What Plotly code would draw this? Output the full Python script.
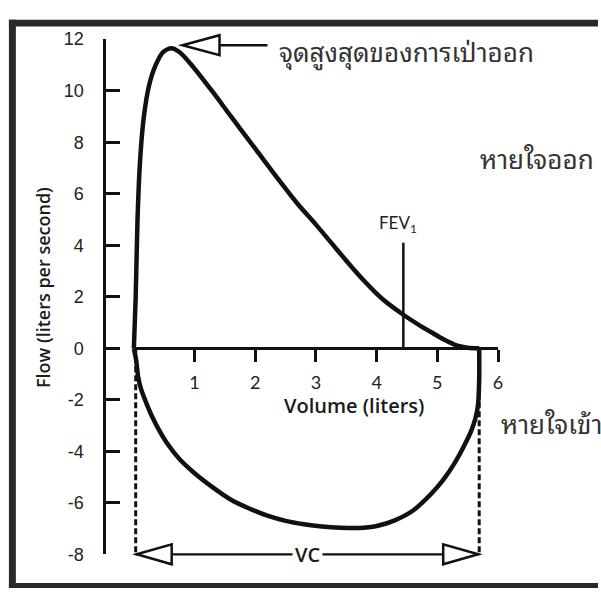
import plotly.graph_objects as go

# ---------------- data ----------------
exp_volume = [0.0, 0.03, 0.06, 0.10, 0.16, 0.25, 0.36, 0.48, 0.62, 0.75, 0.95, 1.3, 1.6, 2.0,
              2.4, 2.7, 3.0, 3.25, 3.5, 3.8, 4.1, 4.44, 4.7, 4.9, 5.1, 5.33, 5.5, 5.69]
exp_flow = [0.0, 2.0, 5.0, 7.2, 8.9, 10.2, 11.0, 11.5, 11.65, 11.5, 11.0, 9.95, 9.0, 7.75,
            6.5, 5.6, 4.8, 4.1, 3.4, 2.6, 1.9, 1.3, 0.9, 0.62, 0.35, 0.1, 0.02, 0.0]

insp_volume = [0.0, 0.04, 0.07, 0.12, 0.20, 0.30, 0.42, 0.55, 0.75, 1.0, 1.3, 1.6, 1.9, 2.2, 2.5,
               2.8, 3.1, 3.4, 3.7, 4.0, 4.3, 4.6, 4.9, 5.1, 5.3, 5.45, 5.56, 5.63, 5.67, 5.69, 5.69]
insp_flow = [0.0, -0.5, -1.1, -1.6, -2.1, -2.65, -3.2, -3.7, -4.3, -4.85, -5.4, -5.88, -6.22, -6.5,
             -6.7, -6.83, -6.92, -6.97, -6.98, -6.9, -6.68, -6.3, -5.65, -5.1, -4.4, -3.75, -3.2,
             -2.7, -2.2, -1.2, 0.0]

x_tick_values = [1, 2, 3, 4, 5, 6]
y_tick_values = [-8, -6, -4, -2, 0, 2, 4, 6, 8, 10, 12]

fev1_volume = 4.44
fev1_line_top = 4.1
vc_start = 0.03
vc_end = 5.69
vc_level = -8

peak_label = "จุดสูงสุดของการเป่าออก"
exhale_label = "หายใจออก"
inhale_label = "หายใจเข้า"

# ---------------- geometry ----------------
W, H = 601, 596
X0, SX = 135.0, 61.2     # pixel of volume 0, pixels per liter
Y0, SY = 350.0, 26.65    # pixel of flow 0, pixels per L/s


def fx(px):
    return px / W


def fy(py):
    return 1 - py / H


XR = [-1.0, 7.0]
YR = [-9.0, 13.0]

HUMAN = "Lato, 'Open Sans', sans-serif"
TITLE = "'Open Sans', Lato, sans-serif"
THAI = "'Noto Sans Thai Looped', 'Loma', 'Garuda', 'Noto Sans Thai', Tahoma, sans-serif"
INK = "#111111"
THAI_COL = "#333333"

fig = go.Figure()

fig.add_trace(go.Scatter(x=exp_volume, y=exp_flow, mode="lines",
                         line=dict(color=INK, width=4.5, shape="spline", smoothing=0.8),
                         hoverinfo="skip", showlegend=False))
fig.add_trace(go.Scatter(x=insp_volume, y=insp_flow, mode="lines",
                         line=dict(color=INK, width=4.5, shape="spline", smoothing=0.6),
                         hoverinfo="skip", showlegend=False))
# FEV1 marker line
fig.add_trace(go.Scatter(x=[fev1_volume, fev1_volume], y=[0, fev1_line_top], mode="lines",
                         line=dict(color=INK, width=2.5), hoverinfo="skip", showlegend=False))
# dashed VC limits
for v in (vc_start, vc_end):
    fig.add_trace(go.Scatter(x=[v, v], y=[0, vc_level], mode="lines",
                             line=dict(color=INK, width=3, dash="6px,3px"),
                             hoverinfo="skip", showlegend=False))
# VC horizontal line
fig.add_trace(go.Scatter(x=[vc_start, vc_end], y=[vc_level, vc_level], mode="lines",
                         line=dict(color=INK, width=2.2), hoverinfo="skip", showlegend=False))
# trace carrying the visible axes
fig.add_trace(go.Scatter(x=[None], y=[None], xaxis="x2", yaxis="y2", showlegend=False,
                         hoverinfo="skip"))

i_peak = max(range(len(exp_flow)), key=lambda i: exp_flow[i])
peak_x, peak_y = exp_volume[i_peak], exp_flow[i_peak]

shapes = []
shapes.append(dict(type="path", xref="x", yref="y", xsizemode="pixel", ysizemode="pixel",
                   xanchor=peak_x, yanchor=peak_y,
                   path="M 11,3 L 48,13 L 48,-7 Z M 48,3 L 96,3",
                   line=dict(color=INK, width=2.5), fillcolor="white"))
shapes.append(dict(type="path", xref="x", yref="y", xsizemode="pixel", ysizemode="pixel",
                   xanchor=vc_start, yanchor=vc_level,
                   path="M 1,0 L 36,10 L 36,-10 Z",
                   line=dict(color=INK, width=2.5), fillcolor="white"))
shapes.append(dict(type="path", xref="x", yref="y", xsizemode="pixel", ysizemode="pixel",
                   xanchor=vc_end, yanchor=vc_level,
                   path="M -1,0 L -36,10 L -36,-10 Z",
                   line=dict(color=INK, width=2.5), fillcolor="white"))
frame_col = "#272b29"
shapes.append(dict(type="rect", xref="paper", yref="paper", x0=fx(9), x1=fx(W + 2), y0=fy(10), y1=fy(17),
                   line=dict(width=0), fillcolor=frame_col))
shapes.append(dict(type="rect", xref="paper", yref="paper", x0=fx(9), x1=fx(16), y0=fy(10), y1=fy(H + 2),
                   line=dict(width=0), fillcolor=frame_col))
shapes.append(dict(type="rect", xref="paper", yref="paper", x0=fx(9), x1=fx(W + 2), y0=fy(593), y1=fy(H + 2),
                   line=dict(width=0), fillcolor=frame_col))

annotations = [
    dict(text="Flow (liters per second)", xref="paper", yref="paper", x=fx(44), y=fy(287),
         textangle=-90, showarrow=False, xanchor="center", yanchor="middle",
         font=dict(family=TITLE, size=18, color="#1a1a1a", weight=600)),
    dict(text="Volume (liters)", xref="paper", yref="paper", x=fx(357), y=fy(409),
         showarrow=False, xanchor="center", yanchor="middle",
         font=dict(family=TITLE, size=20, color="#1a1a1a", weight=600)),
    dict(text="FEV<sub>1</sub>", xref="paper", yref="paper", x=fx(401), y=fy(221),
         showarrow=False, xanchor="center", yanchor="middle",
         font=dict(family=HUMAN, size=17, color="#222222")),
    dict(text="VC", xref="x", yref="y", x=(vc_start + vc_end) / 2, y=vc_level,
         showarrow=False, xanchor="center", yanchor="middle", bgcolor="white", borderpad=2,
         font=dict(family=TITLE, size=20, color="#1a1a1a", weight=600)),
    dict(text=peak_label, xref="paper", yref="paper", x=fx(279), y=fy(41),
         showarrow=False, xanchor="left", yanchor="middle",
         font=dict(family=THAI, size=26, color=THAI_COL)),
    dict(text=exhale_label, xref="paper", yref="paper", x=fx(482), y=fy(152),
         showarrow=False, xanchor="left", yanchor="middle",
         font=dict(family=THAI, size=26, color=THAI_COL)),
    dict(text=inhale_label, xref="paper", yref="paper", x=fx(503), y=fy(426),
         showarrow=False, xanchor="left", yanchor="middle",
         font=dict(family=THAI, size=26, color=THAI_COL)),
]

fig.update_layout(
    width=W, height=H, autosize=False,
    margin=dict(l=0, r=0, t=0, b=0, pad=0),
    paper_bgcolor="white", plot_bgcolor="rgba(0,0,0,0)",
    showlegend=False,
    xaxis=dict(range=XR, domain=[fx(X0 + XR[0] * SX), fx(X0 + XR[1] * SX)],
               visible=False, fixedrange=True),
    yaxis=dict(range=YR, domain=[fy(Y0 - YR[0] * SY), fy(Y0 - YR[1] * SY)],
               visible=False, fixedrange=True),
    xaxis2=dict(range=[0, 6], domain=[fx(X0), fx(X0 + 6 * SX)], anchor="free",
                position=fy(Y0), showline=True, linecolor=INK, linewidth=2.5,
                ticks="outside", ticklen=12, tickwidth=2.5, tickcolor=INK,
                tickvals=x_tick_values, ticktext=[str(v) for v in x_tick_values],
                ticklabelstandoff=5, showgrid=False, zeroline=False,
                tickfont=dict(family=HUMAN, size=18, color="#222222")),
    yaxis2=dict(range=[-8, 12], domain=[fy(Y0 + 8 * SY), fy(Y0 - 12 * SY)], anchor="free",
                position=fx(105), showline=True, linecolor=INK, linewidth=2.5,
                ticks="inside", ticklen=14, tickwidth=2.5, tickcolor=INK,
                tickvals=y_tick_values, ticktext=[str(v) for v in y_tick_values],
                ticklabelstandoff=16, showgrid=False, zeroline=False,
                tickfont=dict(family="'Liberation Sans', Arial, sans-serif", size=18, color="#222222")),
    shapes=shapes,
    annotations=annotations,
)

fig.write_html("out.html", config={"responsive": False, "displayModeBar": False},
               post_script="document.body.style.margin='0';document.body.style.overflow='hidden';")
